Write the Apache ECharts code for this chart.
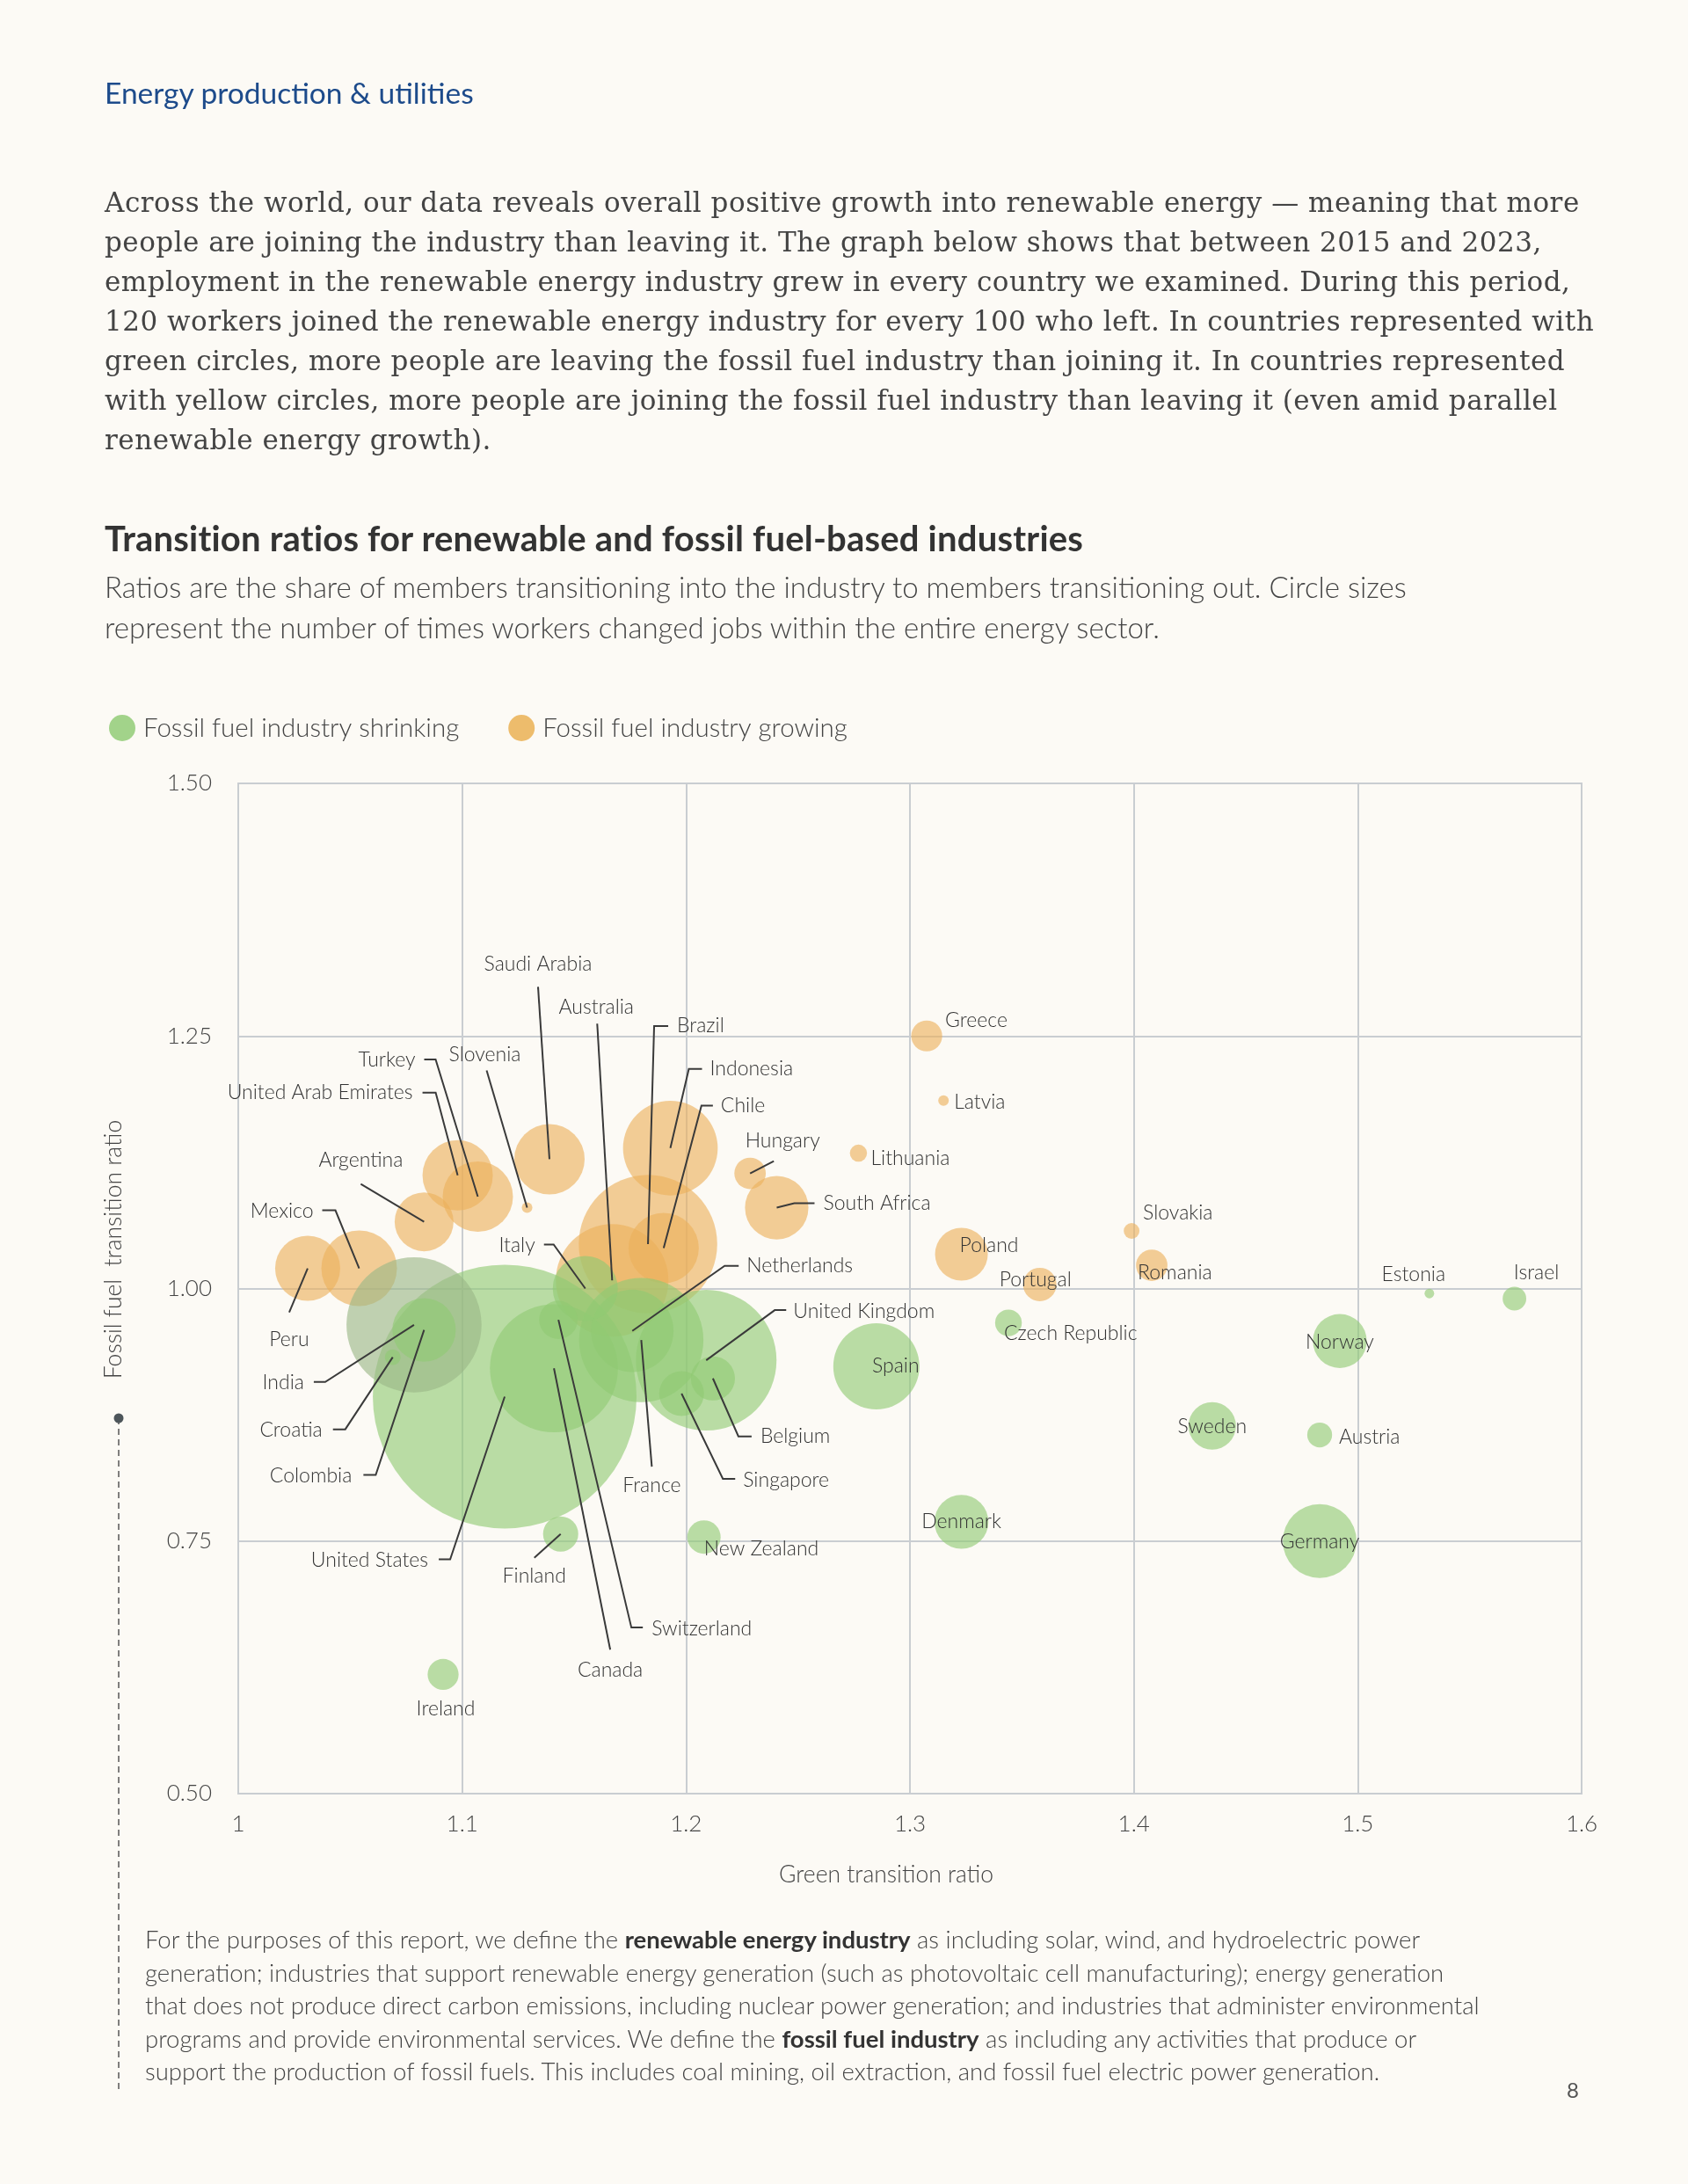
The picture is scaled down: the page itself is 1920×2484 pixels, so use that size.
<!DOCTYPE html>
<html>
<head>
<meta charset="utf-8">
<script src="https://cdn.jsdelivr.net/npm/echarts@6/dist/echarts.min.js"></script>
<style>
html,body{margin:0;padding:0;background:#fcfaf5;}
body{width:1920px;height:2484px;position:relative;overflow:hidden;}
#chart{position:absolute;left:0;top:0;width:1920px;height:2484px;}
.t{position:absolute;white-space:nowrap;}
#header{left:119px;top:86px;font-family:Lato;font-weight:400;font-size:33.5px;line-height:38px;color:#1d4b8b;}
#para{left:119px;top:208px;font-family:'DejaVu Serif';font-size:31px;line-height:45px;color:#444;letter-spacing:0.5px;}
#title{left:119px;top:592px;font-family:Lato;font-weight:700;font-size:40px;line-height:40px;color:#333;letter-spacing:0.2px;}
#sub{left:119px;top:644px;font-family:Lato;font-weight:300;font-size:33px;line-height:46px;color:#444;}
#foot{left:165px;top:2187px;font-family:Lato;font-weight:300;font-size:27.5px;line-height:37.5px;color:#444;}
#foot b{font-weight:700;color:#333;}
#pg{left:1782px;top:2365px;font-family:Lato;font-weight:400;font-size:24px;line-height:24px;color:#555;}
</style>
</head>
<body>
<div id="chart"></div>
<div class="t" id="header">Energy production &amp; utilities</div>
<div class="t" id="para">Across the world, our data reveals overall positive growth into renewable energy — meaning that more<br>people are joining the industry than leaving it. The graph below shows that between 2015 and 2023,<br>employment in the renewable energy industry grew in every country we examined. During this period,<br>120 workers joined the renewable energy industry for every 100 who left. In countries represented with<br>green circles, more people are leaving the fossil fuel industry than joining it. In countries represented<br>with yellow circles, more people are joining the fossil fuel industry than leaving it (even amid parallel<br>renewable energy growth).</div>
<div class="t" id="title">Transition ratios for renewable and fossil fuel-based industries</div>
<div class="t" id="sub">Ratios are the share of members transitioning into the industry to members transitioning out. Circle sizes<br>represent the number of times workers changed jobs within the entire energy sector.</div>
<div class="t" id="foot">For the purposes of this report, we define the <b>renewable energy industry</b> as including solar, wind, and hydroelectric power<br>generation; industries that support renewable energy generation (such as photovoltaic cell manufacturing); energy generation<br>that does not produce direct carbon emissions, including nuclear power generation; and industries that administer environmental<br>programs and provide environmental services. We define the <b>fossil fuel industry</b> as including any activities that produce or<br>support the production of fossil fuels. This includes coal mining, oil extraction, and fossil fuel electric power generation.</div>
<div class="t" id="pg">8</div>
<script>
// ---------------- DATA ----------------
const countries = [
  'United States','India','Colombia','Croatia','Canada','Switzerland','Italy','France','Netherlands',
  'United Kingdom','Belgium','Singapore','Finland','New Zealand','Ireland','Spain','Czech Republic',
  'Denmark','Sweden','Austria','Germany','Norway','Estonia','Israel',
  'Peru','Mexico','Argentina','United Arab Emirates','Turkey','Slovenia','Saudi Arabia','Australia',
  'Brazil','Chile','Indonesia','Hungary','South Africa','Lithuania','Greece','Latvia','Poland',
  'Portugal','Slovakia','Romania'
];
// Green transition ratio (x)
const greenRatio = [
  1.119, 1.0785, 1.083, 1.069, 1.141, 1.143, 1.155, 1.180, 1.176,
  1.209, 1.212, 1.198, 1.144, 1.208, 1.0915, 1.285, 1.344,
  1.323, 1.435, 1.483, 1.483, 1.492, 1.532, 1.570,
  1.031, 1.054, 1.083, 1.098, 1.107, 1.129, 1.139, 1.167,
  1.183, 1.190, 1.193, 1.2286, 1.2405, 1.277, 1.3075, 1.315, 1.323,
  1.358, 1.399, 1.408
];
// Fossil fuel transition ratio (y)
const fossilRatio = [
  0.893, 0.964, 0.959, 0.932, 0.921, 0.969, 1.000, 0.949, 0.958,
  0.929, 0.911, 0.896, 0.757, 0.754, 0.618, 0.923, 0.966,
  0.769, 0.864, 0.855, 0.750, 0.948, 0.995, 0.990,
  1.020, 1.020, 1.066, 1.112, 1.091, 1.080, 1.128, 1.008,
  1.044, 1.040, 1.139, 1.114, 1.080, 1.134, 1.250, 1.186, 1.034,
  1.004, 1.057, 1.023
];
// Relative number of job changes within the energy sector (circle area, arbitrary units)
const jobChanges = [
  225, 59, 13, 0.8, 53, 4.8, 13.7, 50, 22,
  64, 6.3, 6.5, 4, 3.6, 3.1, 24, 2.3,
  9.4, 7.3, 2.0, 17.6, 9.4, 0.3, 1.8,
  13.7, 18.5, 11.2, 16, 16, 0.36, 16, 41,
  62, 16, 29, 3.2, 13, 0.95, 3.1, 0.36, 9,
  3.6, 0.8, 3.2
];
// Fossil fuel industry status
const status = [
  'S','S','S','S','S','S','S','S','S',
  'S','S','S','S','S','S','S','S',
  'S','S','S','S','S','S','S',
  'G','G','G','G','G','G','G','G',
  'G','G','G','G','G','G','G','G','G',
  'G','G','G'
];
const legendLabels = ['Fossil fuel industry shrinking', 'Fossil fuel industry growing'];
const xTickLabels = ['1', '1.1', '1.2', '1.3', '1.4', '1.5', '1.6'];
const yTickLabels = ['0.50', '0.75', '1.00', '1.25', '1.50'];

// ---------------- LAYOUT / STYLE ----------------
// label placement: t = text offset (px) from bubble centre, a = align, l = leader line points (px offsets)
const labelSpec = {
  'United States': {t:[-87,186], a:'right', l:[[-62,185],[-75,185]]},
  'India': {t:[-125,66], a:'right', l:[[-101,65],[-114,65]]},
  'Colombia': {t:[-82,166], a:'right', l:[[-55,165],[-69,165]]},
  'Croatia': {t:[-80,83], a:'right', l:[[-54,82],[-68,82]]},
  'Canada': {t:[64,343], a:'center', l:[[64,320]]},
  'Switzerland': {t:[106,351], a:'left', l:[[83,350],[96,350]]},
  'Italy': {t:[-57,-49], a:'right', l:[[-36,-50],[-47,-50]]},
  'France': {t:[12,165], a:'center', l:[[12,144]]},
  'Netherlands': {t:[130,-74], a:'left', l:[[105,-74],[121,-74]]},
  'United Kingdom': {t:[99,-56], a:'left', l:[[78,-57],[91,-57]]},
  'Belgium': {t:[54,66], a:'left', l:[[29,66],[44,66]]},
  'Singapore': {t:[70,99], a:'left', l:[[47,97],[61,97]]},
  'Finland': {t:[-30,48], a:'center', l:[[-30,27]]},
  'New Zealand': {t:[0,13], a:'left'},
  'Ireland': {t:[3,39], a:'center'},
  'Spain': {t:[22,0], a:'center'},
  'Czech Republic': {t:[-5,12], a:'left'},
  'Denmark': {t:[0,0], a:'center'},
  'Sweden': {t:[0,1], a:'center'},
  'Austria': {t:[22,2], a:'left'},
  'Germany': {t:[0,1], a:'center'},
  'Norway': {t:[0,1], a:'center'},
  'Estonia': {t:[-18,-22], a:'center'},
  'Israel': {t:[25,-29], a:'center'},
  'Peru': {t:[-21,81], a:'center', l:[[-21,50]]},
  'Mexico': {t:[-52,-65], a:'right', l:[[-27,-66],[-42,-66]]},
  'Argentina': {t:[-72,-70], a:'center', l:[[-72,-43]]},
  'United Arab Emirates': {t:[-51,-94], a:'right', l:[[-25,-94],[-40,-94]]},
  'Turkey': {t:[-71,-155], a:'right', l:[[-48,-156],[-61,-156]]},
  'Slovenia': {t:[-48,-174], a:'center', l:[[-46,-156]]},
  'Saudi Arabia': {t:[-13,-222], a:'center', l:[[-13,-196]]},
  'Australia': {t:[-18,-311], a:'center', l:[[-17,-292]]},
  'Brazil': {t:[33,-248], a:'left', l:[[7,-248],[23,-248]]},
  'Chile': {t:[65,-162], a:'left', l:[[43,-162],[56,-162]]},
  'Indonesia': {t:[45,-90], a:'left', l:[[21,-90],[36,-90]]},
  'Hungary': {t:[37,-37], a:'center', l:[[27,-14]]},
  'South Africa': {t:[53,-5], a:'left', l:[[20,-5],[43,-5]]},
  'Lithuania': {t:[14,6], a:'left'},
  'Greece': {t:[21,-18], a:'left'},
  'Latvia': {t:[12,2], a:'left'},
  'Poland': {t:[-2,-10], a:'left'},
  'Portugal': {t:[-5,-5], a:'center'},
  'Slovakia': {t:[13,-20], a:'left'},
  'Romania': {t:[-16,9], a:'left'}
};
const GREEN = '#8fca72', ORANGE = '#ebb05a';
const specialColor = {'India': '#9ab786'};
const gridColor = '#c9cdd1';
const txt = '#444';

function buildData(code){
  const idx = countries.map((c,i)=>i).filter(i=>status[i]===code);
  idx.sort((a,b)=>jobChanges[b]-jobChanges[a]);
  return idx.map(i=>{
    const d = {name: countries[i], value:[greenRatio[i], fossilRatio[i], jobChanges[i]]};
    if (specialColor[countries[i]]) d.itemStyle = {color: specialColor[countries[i]]};
    return d;
  });
}
const sizeFn = v => 20*Math.sqrt(v[2]);

const chart = echarts.init(document.getElementById('chart'), null, {renderer:'canvas'});
const option = {
  animation:false,
  backgroundColor:'transparent',
  legend:{
    left:119, top:808, itemWidth:30, itemHeight:30, itemGap:56, icon:'circle', selectedMode:false,
    data:[
      {name:legendLabels[0], itemStyle:{color:'#a2d38a', opacity:1}},
      {name:legendLabels[1], itemStyle:{color:'#edbc6c', opacity:1}}
    ],
    textStyle:{fontFamily:'Lato', fontWeight:300, fontSize:29.5, color:txt, padding:[0,0,0,4]}
  },
  grid:{left:271, top:891, width:1528, height:1149, show:true, borderColor:gridColor, borderWidth:2, backgroundColor:'transparent'},
  xAxis:{
    type:'value', min:1, max:1.6, interval:0.1,
    axisLine:{show:true, lineStyle:{color:gridColor, width:2}},
    axisTick:{show:false},
    splitLine:{show:true, lineStyle:{color:gridColor, width:2}},
    axisLabel:{margin:22, fontFamily:'Lato', fontWeight:300, fontSize:26, color:txt,
      formatter:(v)=>xTickLabels[Math.round((v-1)*10)]}
  },
  yAxis:{
    type:'value', min:0.5, max:1.5, interval:0.25,
    axisLine:{show:true, lineStyle:{color:gridColor, width:2}},
    axisTick:{show:false},
    splitLine:{show:true, lineStyle:{color:gridColor, width:2}},
    axisLabel:{margin:30, fontFamily:'Lato', fontWeight:300, fontSize:26, color:txt,
      formatter:(v)=>yTickLabels[Math.round((v-0.5)*4)]}
  },
  graphic:[
    {type:'text', x:129, y:1421, rotation:Math.PI/2, style:{text:'Fossil fuel  transition ratio', fontFamily:'Lato', fontWeight:300, fontSize:26.5, fill:txt, align:'center', verticalAlign:'middle'}},
    {type:'line', shape:{x1:135, y1:1613, x2:135, y2:2377}, style:{stroke:'#555', lineWidth:1.5, lineDash:[7,5]}},
    {type:'circle', shape:{cx:135, cy:1613, r:5.5}, style:{fill:'#4d555a'}},
    {type:'text', x:1008, y:2132, style:{text:'Green transition ratio', fontFamily:'Lato', fontWeight:300, fontSize:26.5, fill:txt, align:'center', verticalAlign:'middle'}}
  ],
  series:[
    {name:legendLabels[1], type:'scatter', data:buildData('G'), symbolSize:sizeFn,
      itemStyle:{color:ORANGE, opacity:0.62}, emphasis:{disabled:true}, z:2},
    {name:legendLabels[0], type:'scatter', data:buildData('S'), symbolSize:sizeFn,
      itemStyle:{color:GREEN, opacity:0.62}, emphasis:{disabled:true}, z:3},
    {type:'custom', name:'labels', silent:true, clip:false, z:10,
      data: countries.map((c,i)=>[greenRatio[i], fossilRatio[i], i]),
      encode:{x:0, y:1},
      renderItem:function(params, api){
        const i = api.value(2);
        const name = countries[i];
        const c = api.coord([api.value(0), api.value(1)]);
        const s = labelSpec[name];
        const kids = [];
        if (s.l){
          const pts = [[c[0],c[1]]].concat(s.l.map(p=>[c[0]+p[0], c[1]+p[1]]));
          kids.push({type:'polyline', shape:{points:pts}, style:{stroke:'#3a3a3a', lineWidth:2, fill:null}});
        }
        kids.push({type:'text', x:c[0]+s.t[0], y:c[1]+s.t[1], style:{text:name, fontFamily:'Lato', fontWeight:300, fontSize:23, fill:'#333', align:s.a, verticalAlign:'middle'}});
        return {type:'group', children:kids};
      }
    }
  ]
};
chart.setOption(option);
</script>
</body>
</html>
